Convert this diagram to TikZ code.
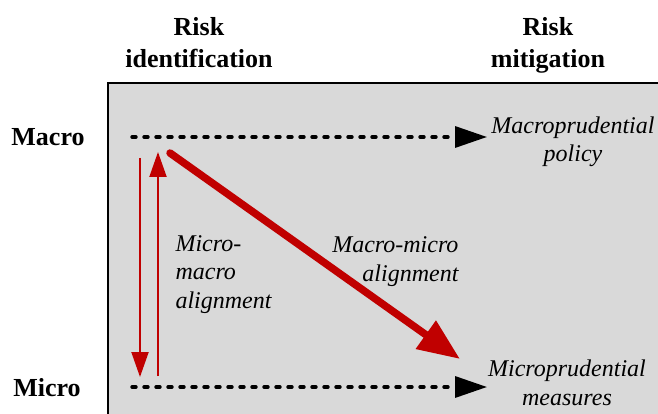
\documentclass[tikz,border=0pt]{standalone}
\usepackage{fontspec}
\setmainfont{Liberation Serif}
\usetikzlibrary{arrows.meta}
\definecolor{boxgray}{HTML}{D9D9D9}
\definecolor{darkred}{HTML}{C00000}
\tikzset{
  hdr/.style={font=\fontsize{26}{32}\selectfont\bfseries, align=center, anchor=base},
  lbl/.style={font=\fontsize{26}{32}\selectfont\bfseries, anchor=base},
  itx/.style={font=\fontsize{24}{28.5}\selectfont\itshape, anchor=base},
  dashline/.style={line width=3.4pt, line cap=round, dash pattern=on 4pt off 8pt,
    -{Triangle[length=32pt,width=21pt]}},
  thinred/.style={darkred, line width=2pt, -{Triangle[length=25pt,width=17pt]}},
  thickred/.style={darkred, line width=7.5pt, line cap=round, -{Triangle[length=42pt,width=33pt]}},
}
\begin{document}
\begin{tikzpicture}[x=1pt,y=-1pt]
\useasboundingbox (0,0) rectangle (658,414);
\begin{scope}
\clip (0,0) rectangle (658,414);
\draw[line width=2pt, fill=boxgray] (108,83) rectangle (700,460);
\end{scope}
% headers (base = baseline of last line)
\node[hdr] (hid) at (199,68) {Risk\\identification};
\node[hdr] (hmit) at (548,68) {Risk\\mitigation};
\node[lbl] (macro) at (48,146) {Macro};
\node[lbl] (micro) at (47,396) {Micro};
% right texts
\node[itx, align=center] (macpol) at (573,162) {Macroprudential\\policy};
\node[itx, align=center] (micmeas) at (567,405) {Microprudential\\measures};
\node[itx, align=left, anchor=base west] (mma) at (172,308) {Micro-\\macro\\alignment};
\node[itx, align=right, anchor=base east] (mmb) at (462,281) {Macro-micro\\alignment};
% coordinates
\coordinate (t1) at (132,137);
\coordinate (t2) at (487,137);
\coordinate (b1) at (132,387);
\coordinate (b2) at (487,387);
\coordinate (d1) at (140,158);
\coordinate (d2) at (140,377);
\coordinate (u1) at (158,376);
\coordinate (u2) at (158,152);
\coordinate (g1) at (170,153);
\coordinate (g2) at (460,359);
% connectors
\draw[dashline] (t1) -- (t2);
\draw[dashline] (b1) -- (b2);
\draw[thinred] (d1) -- (d2);
\draw[thinred] (u1) -- (u2);
\draw[thickred] (g1) -- (g2);
\end{tikzpicture}
\end{document}
